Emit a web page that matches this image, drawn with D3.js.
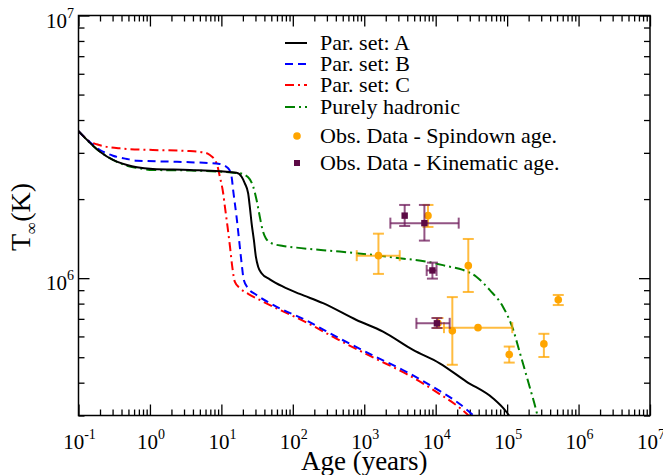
<!DOCTYPE html>
<html><head><meta charset="utf-8">
<script src="https://cdn.jsdelivr.net/npm/d3@7"></script>
<style>
html,body{margin:0;padding:0;background:#fff;}
svg{display:block;font-family:"Liberation Serif","Times New Roman",serif;}
</style></head>
<body><svg id="chart" width="663" height="475"></svg>
<script>
// ---- data ----
const parSetA = [[0.1,3.63e6],[0.2,3.03e6],[0.304,2.818e6],[0.477,2.697e6],[0.658,2.643e6],[1.1,2.604e6],[3.63,2.582e6],[16.3,2.52e6],[19.2,2.434e6],[21.3,2.297e6],[23.7,2.105e6],[25.0,1.872e6],[26.5,1.618e6],[28.5,1.398e6],[30.4,1.207e6],[32.7,1.106e6],[36.5,1.044e6],[47.6,9.90e5],[73.1,9.28e5],[125,8.71e5],[265,8.03e5],[778,6.93e5],[1832,6.26e5],[4815,5.33e5],[11380,4.74e5],[26880,4.04e5],[63300,3.49e5],[97400,3.10e5],[112000,2.94e5]];
const parSetB = [[0.1,3.63e6],[0.2,3.076e6],[0.304,2.926e6],[0.477,2.843e6],[0.658,2.802e6],[1.905,2.777e6],[3.63,2.763e6],[9.52,2.72e6],[12.45,2.62e6],[13.9,2.434e6],[14.6,2.167e6],[16.3,1.714e6],[17.7,1.398e6],[19.2,1.139e6],[20.6,9.84e5],[23.7,9.15e5],[31.1,8.63e5],[53,7.91e5],[155,6.90e5],[454,5.89e5],[1327,5.08e5],[3890,4.40e5],[11380,3.72e5],[21670,3.32e5],[35120,2.975e5]];
const parSetC = [[0.1,3.63e6],[0.145,3.31e6],[0.18,3.233e6],[0.38,3.12e6],[1.1,3.076e6],[3.29,3.05e6],[5.51,3.015e6],[6.9,2.944e6],[8.57,2.737e6],[9.52,2.434e6],[10.6,2.105e6],[11.2,1.872e6],[12.2,1.57e6],[13.2,1.318e6],[14.2,1.106e6],[15.4,9.70e5],[18.2,9.15e5],[23.7,8.71e5],[34.5,8.26e5],[59.1,7.68e5],[155,6.78e5],[454,5.79e5],[1327,4.99e5],[3890,4.32e5],[11380,3.62e5],[21670,3.21e5],[29900,2.975e5]];
const hadronic = [[0.1,3.63e6],[0.2,3.03e6],[0.304,2.818e6],[0.477,2.68e6],[0.658,2.63e6],[1.1,2.582e6],[3.63,2.57e6],[18.2,2.507e6],[23.7,2.421e6],[27.9,2.23e6],[31.1,1.985e6],[34.5,1.714e6],[37.7,1.526e6],[41.9,1.419e6],[50.4,1.358e6],[73.1,1.326e6],[112.6,1.307e6],[454,1.262e6],[1315,1.226e6],[3137,1.191e6],[7413,1.156e6],[14110,1.113e6],[24080,1.075e6],[37090,1.013e6],[56910,9.02e5],[87360,7.79e5],[120500,6.41e5],[149500,5.24e5],[206400,3.86e5],[261100,3.06e5],[275000,2.88e5]];

// observational data: [age, T, ageLo, ageHi, TLo, THi]
const spindownData = [
  [1580,1.218e6,785,3140,1.038e6,1.477e6],
  [28600,1.116e6,null,null,8.86e5,1.41e6],
  [7800,1.73e6,null,null,1.567e6,1.90e6],
  [17100,6.30e5,null,null,4.68e5,8.47e5],
  [39100,6.48e5,13060,118000,null,null],
  [107000,5.12e5,null,null,4.77e5,5.49e5],
  [327000,5.62e5,null,null,5.01e5,6.14e5],
  [520000,8.28e5,null,null,7.9e5,8.63e5],
  [10770,6.73e5,null,null,6.46e5,7.05e5]
];
const kinematicData = [
  [3680,1.73e6,null,null,1.58e6,1.90e6],
  [6950,1.62e6,2320,21000,1.39e6,1.90e6],
  [9000,1.07e6,7480,10280,9.96e5,1.146e6],
  [10400,6.73e5,5370,15700,6.46e5,7.05e5]
];

const xTickExps = ["-1","0","1","2","3","4","5","6","7"];
const yTickExps = ["6","7"];
const legendLabels = ["Par. set: A","Par. set: B","Par. set: C","Purely hadronic","Obs. Data - Spindown age.","Obs. Data - Kinematic age."];

// ---- drawing ----
const svg = d3.select("#chart");
const L = 78.5, R = 650, T = 15.5, B = 415.5;
const x = d3.scaleLog().domain([0.1, 1e7]).range([L, R]);
const y = d3.scaleLog().domain([3e5, 1e7]).range([B, T]);

svg.append("defs").append("clipPath").attr("id","clip")
  .append("rect").attr("x",L).attr("y",T).attr("width",R-L).attr("height",B-T);

// ticks
const xMajor = xTickExps.map(e => Math.pow(10, +e));
const xMinor = [];
for (let d = -1; d < 7; d++) for (let m = 2; m <= 9; m++) xMinor.push(m * Math.pow(10, d));
const yMajor = yTickExps.map(e => Math.pow(10, +e));
const yMinor = [];
for (let d = 5; d < 7; d++) for (let m = 2; m <= 9; m++) { const v = m*Math.pow(10,d); if (v >= 3e5) yMinor.push(v); }

function axisG(gen, tx, ty) {
  const g = svg.append("g").attr("transform", `translate(${tx},${ty})`).call(gen);
  g.select(".domain").remove();
  g.selectAll("line").attr("stroke","#000").attr("stroke-width",1.3);
  g.selectAll("text").remove();
  return g;
}
axisG(d3.axisBottom(x).tickValues(xMajor).tickSize(-11).tickFormat(""), 0, B);
axisG(d3.axisBottom(x).tickValues(xMinor).tickSize(-6).tickFormat(""), 0, B);
axisG(d3.axisTop(x).tickValues(xMajor).tickSize(-11).tickFormat(""), 0, T);
axisG(d3.axisTop(x).tickValues(xMinor).tickSize(-6).tickFormat(""), 0, T);
axisG(d3.axisLeft(y).tickValues(yMajor).tickSize(-11).tickFormat(""), L, 0);
axisG(d3.axisLeft(y).tickValues(yMinor).tickSize(-6).tickFormat(""), L, 0);
axisG(d3.axisRight(y).tickValues(yMajor).tickSize(-11).tickFormat(""), R, 0);
axisG(d3.axisRight(y).tickValues(yMinor).tickSize(-6).tickFormat(""), R, 0);

// tick labels
xTickExps.forEach((e, i) => {
  const t = svg.append("text").attr("x", x(xMajor[i]) + 1).attr("y", 449)
    .attr("text-anchor","middle").attr("font-size",21);
  t.append("tspan").text("10");
  t.append("tspan").attr("font-size",14).attr("dy",-10).text(e);
});
yTickExps.forEach((e, i) => {
  const t = svg.append("text").attr("x", 74).attr("y", y(yMajor[i]) + 12)
    .attr("text-anchor","end").attr("font-size",21);
  t.append("tspan").text("10");
  t.append("tspan").attr("font-size",14).attr("dy",-10).text(e);
});

// axis titles
svg.append("text").attr("x",(L+R)/2).attr("y",470).attr("text-anchor","middle")
  .attr("font-size",27).text("Age (years)");
const yt = svg.append("text").attr("transform","translate(30,251) rotate(-90)")
  .attr("text-anchor","start").attr("font-size",28);
yt.append("tspan").text("T");
yt.append("tspan").attr("font-size",17).attr("dy",7).text("\u221E");
yt.append("tspan").attr("dy",-7).text("(K)");

// curves
const line = d3.line().x(d => x(d[0])).y(d => y(d[1])).curve(d3.curveMonotoneX);
const series = [
  {data: hadronic, color:"#008000", dash:"10,4,2,4"},
  {data: parSetC, color:"#ff0000", dash:"9,4,2,4"},
  {data: parSetB, color:"#0000ff", dash:"8,5"},
  {data: parSetA, color:"#000000", dash:null}
];
const cg = svg.append("g").attr("clip-path","url(#clip)");
series.forEach(s => {
  cg.append("path").attr("d", line(s.data)).attr("fill","none")
    .attr("stroke", s.color).attr("stroke-width", 2)
    .attr("stroke-dasharray", s.dash);
});

// observational data with error bars
function drawObs(data, color, barColor, shape) {
  const g = svg.append("g");
  const cap = 5.5;
  data.forEach(d => {
    const px = x(d[0]), py = y(d[1]);
    const eb = g.append("g").attr("stroke", barColor).attr("stroke-width",2).attr("stroke-opacity",0.75);
    if (d[2] != null) {
      const x0 = x(d[2]), x1 = x(d[3]);
      eb.append("line").attr("x1",x0).attr("x2",x1).attr("y1",py).attr("y2",py);
      eb.append("line").attr("x1",x0).attr("x2",x0).attr("y1",py-cap).attr("y2",py+cap);
      eb.append("line").attr("x1",x1).attr("x2",x1).attr("y1",py-cap).attr("y2",py+cap);
    }
    if (d[4] != null) {
      const y0 = y(d[4]), y1 = y(d[5]);
      eb.append("line").attr("x1",px).attr("x2",px).attr("y1",y0).attr("y2",y1);
      eb.append("line").attr("x1",px-cap).attr("x2",px+cap).attr("y1",y0).attr("y2",y0);
      eb.append("line").attr("x1",px-cap).attr("x2",px+cap).attr("y1",y1).attr("y2",y1);
    }
  });
  data.forEach(d => {
    const px = x(d[0]), py = y(d[1]);
    if (shape === "circle") g.append("circle").attr("cx",px).attr("cy",py).attr("r",3.8).attr("fill",color);
    else g.append("rect").attr("x",px-3.2).attr("y",py-3.2).attr("width",6.4).attr("height",6.4).attr("fill",color);
  });
}
drawObs(spindownData, "#ffa500", "#ffa500", "circle");
drawObs(kinematicData, "#5c0a45", "#6e1a5a", "square");

// frame
svg.append("rect").attr("x",L).attr("y",T).attr("width",R-L).attr("height",B-T)
  .attr("fill","none").attr("stroke","#000").attr("stroke-width",1.5);

// legend
const legBase = [50, 71, 92, 114, 143, 170];
const lg = svg.append("g");
const legStyles = [series[3], series[2], series[1], series[0]];
legendLabels.forEach((lab, i) => {
  const by = legBase[i], cy = by - 7;
  if (i < 4) {
    const s = legStyles[i];
    lg.append("line").attr("x1",285).attr("x2",307).attr("y1",cy).attr("y2",cy)
      .attr("stroke",s.color).attr("stroke-width",2).attr("stroke-dasharray",s.dash);
  } else if (i === 4) {
    lg.append("circle").attr("cx",297).attr("cy",cy).attr("r",3.8).attr("fill","#ffa500");
  } else {
    lg.append("rect").attr("x",294).attr("y",cy-3).attr("width",6).attr("height",6).attr("fill","#5c0a45");
  }
  lg.append("text").attr("x",320).attr("y",by).attr("font-size",22).text(lab);
});
</script>
</body></html>
